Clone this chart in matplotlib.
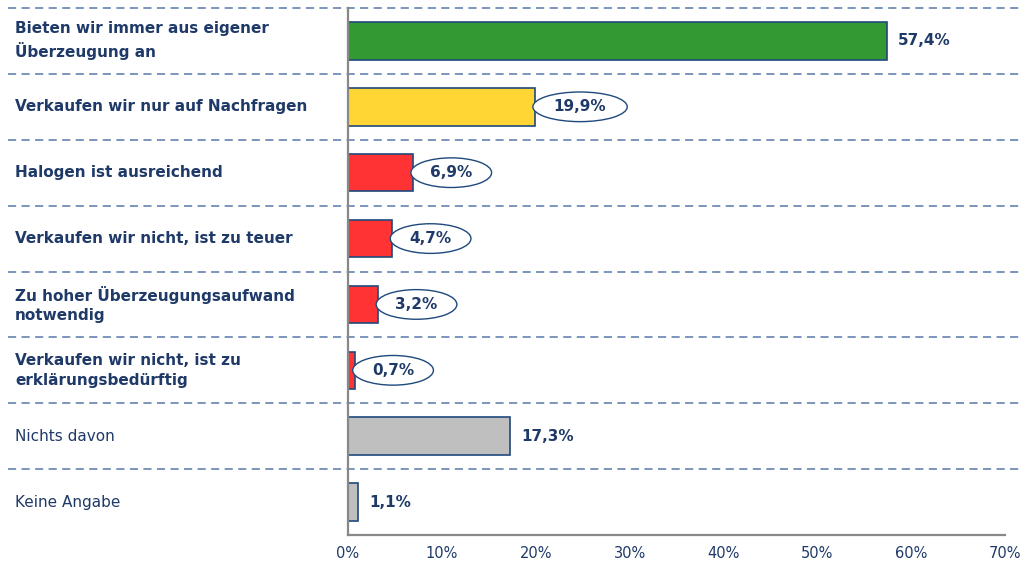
import matplotlib.pyplot as plt
from matplotlib.patches import Ellipse
from matplotlib.transforms import blended_transform_factory

# Daten
labels = [
    "Bieten wir immer aus eigener\nÜberzeugung an",
    "Verkaufen wir nur auf Nachfragen",
    "Halogen ist ausreichend",
    "Verkaufen wir nicht, ist zu teuer",
    "Zu hoher Überzeugungsaufwand\nnotwendig",
    "Verkaufen wir nicht, ist zu\nerklärungsbedürftig",
    "Nichts davon",
    "Keine Angabe",
]
values = [57.4, 19.9, 6.9, 4.7, 3.2, 0.7, 17.3, 1.1]
bold_label = [True, True, True, True, True, True, False, False]
circled = [False, True, True, True, True, True, False, False]
bar_colors = ["#339933", "#FFD633", "#FF3333", "#FF3333", "#FF3333", "#FF3333",
              "#BFBFBF", "#BFBFBF"]
xticks = [0, 10, 20, 30, 40, 50, 60, 70]

navy = "#1F3A68"
edge = "#1F497D"
plt.rcParams['font.family'] = ['DejaVu Sans']

W, H = 1029, 561
fig = plt.figure(figsize=(W / 100, H / 100), dpi=100)
ax = fig.add_axes([348 / W, (H - 535) / H, (1005 - 348) / W, (535 - 8) / H])

y = list(range(len(values)))
ax.barh(y, values, height=0.57, color=bar_colors, edgecolor=edge, linewidth=1.2, zorder=3)
ax.set_xlim(0, 70)
ax.set_ylim(len(values) - 0.5, -0.5)

# gestrichelte Trennlinien über die ganze Breite
tr_line = blended_transform_factory(fig.transFigure, ax.transData)
for i in range(len(values)):
    ax.plot([8 / W, 1023 / W], [i - 0.5, i - 0.5], transform=tr_line, color="#6F8DB5",
            lw=1.3, ls=(0, (4.5, 3)), clip_on=False, zorder=1)

# Kategorien links
for i, lab in enumerate(labels):
    ax.text(15 / W, i, lab, transform=tr_line, ha="left", va="center", fontsize=11,
            fontweight="bold" if bold_label[i] else "normal", color=navy, linespacing=1.4)

# Werte
for i, v in enumerate(values):
    txt = f"{v:.1f}%".replace(".", ",")
    if circled[i]:
        w = 2.8 + 1.45 * len(txt)
        cx = v - 0.2 + w / 2
        ax.add_patch(Ellipse((cx, i), w, 0.45, facecolor="white", edgecolor=edge,
                             lw=1.0, zorder=4))
        ax.text(cx, i, txt, ha="center", va="center", fontsize=11, fontweight="bold",
                color=navy, zorder=5)
    else:
        ax.text(v + 1.2, i, txt, ha="left", va="center", fontsize=11, fontweight="bold",
                color=navy, zorder=5)

ax.set_xticks(xticks)
ax.set_xticklabels([f"{t}%" for t in xticks], fontsize=10.5, color=navy)
ax.set_yticks([])
ax.tick_params(axis="x", length=0, pad=8)
for s in ["top", "right"]:
    ax.spines[s].set_visible(False)
for s in ["left", "bottom"]:
    ax.spines[s].set_color("#888888")
    ax.spines[s].set_linewidth(1.6)
    ax.spines[s].set_zorder(6)

fig.savefig("out.png", dpi=100)
